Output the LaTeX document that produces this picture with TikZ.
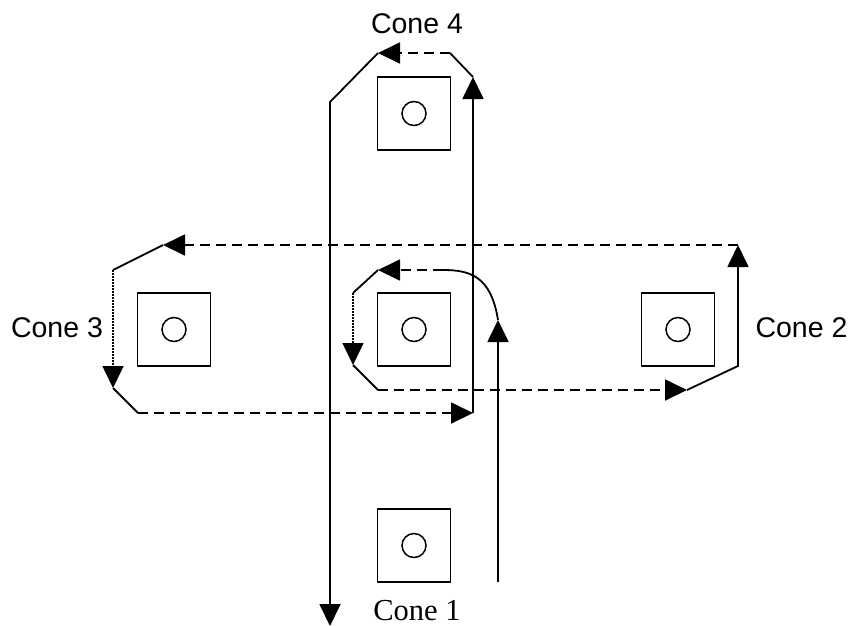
\documentclass[tikz,border=0pt]{standalone}
\usepackage{fontspec}
\setmainfont{Liberation Sans}
\newfontfamily\timesfont{Liberation Serif}
\usetikzlibrary{arrows.meta}
\begin{document}
\begin{tikzpicture}[x=1pt,y=-1pt, line width=1.8pt,
  cone/.style={draw, minimum size=73pt, inner sep=0pt, line width=1.6pt},
  hole/.style={draw, circle, minimum size=24pt, inner sep=0pt, line width=1.5pt},
  lbl/.style={font=\fontsize{28.5}{30}\selectfont, anchor=base, inner sep=0pt},
  tip/.style={-{Triangle[length=22pt,width=21pt]}},
  dashline/.style={dash pattern=on 10pt off 6pt},
  dotline/.style={dash pattern=on 1.5pt off 1.5pt, line width=1.5pt},
]
\useasboundingbox (0,0) rectangle (851,625);

% cones
\node[cone] (c4) at (414,113.5) {};
\node[cone] (cc) at (414,329.5) {};
\node[cone] (c3) at (174,329.5) {};
\node[cone] (c2) at (678,329.5) {};
\node[cone] (c1) at (414,545.5) {};
\node[hole] (h4) at (c4) {};
\node[hole] (hc) at (cc) {};
\node[hole] (h3) at (c3) {};
\node[hole] (h2) at (c2) {};
\node[hole] (h1) at (c1) {};

% labels
\node[lbl] (l4) at (417,33) {Cone 4};
\node[lbl] (l3) at (57,337) {Cone 3};
\node[lbl] (l2) at (801.5,337) {Cone 2};
\node[lbl, font=\timesfont\fontsize{30.5}{32}\selectfont] (l1) at (417,620) {Cone 1};

% route points
\coordinate (s0) at (498,582);
\coordinate (s1) at (498,320);
\coordinate (s2) at (443,270);
\coordinate (s3) at (378,270);
\coordinate (s4) at (353,293);
\coordinate (s5) at (353,365);
\coordinate (s6) at (378,390);
\coordinate (s7) at (687,390);
\coordinate (s8) at (738,366);
\coordinate (s9) at (738,245);
\coordinate (t1) at (163,245);
\coordinate (t2) at (113,270);
\coordinate (t3) at (113,388);
\coordinate (t4) at (138,413);
\coordinate (t5) at (473,413);
\coordinate (u1) at (473,77);
\coordinate (u2) at (450,53);
\coordinate (u3) at (378,53);
\coordinate (u4) at (330,102);
\coordinate (u5) at (330,626);

% route
\draw[tip] (s0) -- (s1);
\draw (s1) .. controls (491,276) and (470,270) .. (s2);
\draw[tip, dashline] (s2) -- (s3);
\draw (s3) -- (s4);
\draw[tip, dotline] (s4) -- (s5);
\draw (s5) -- (s6);
\draw[tip, dashline] (s6) -- (s7);
\draw[tip] (s7) -- (s8) -- (s9);
\draw[tip, dashline] (s9) -- (t1);
\draw (t1) -- (t2);
\draw[tip, dotline] (t2) -- (t3);
\draw (t3) -- (t4);
\draw[tip, dashline] (t4) -- (t5);
\draw[tip] (t5) -- (u1);
\draw (u1) -- (u2);
\draw[tip, dashline] (u2) -- (u3);
\draw[tip] (u3) -- (u4) -- (u5);
\end{tikzpicture}
\end{document}
